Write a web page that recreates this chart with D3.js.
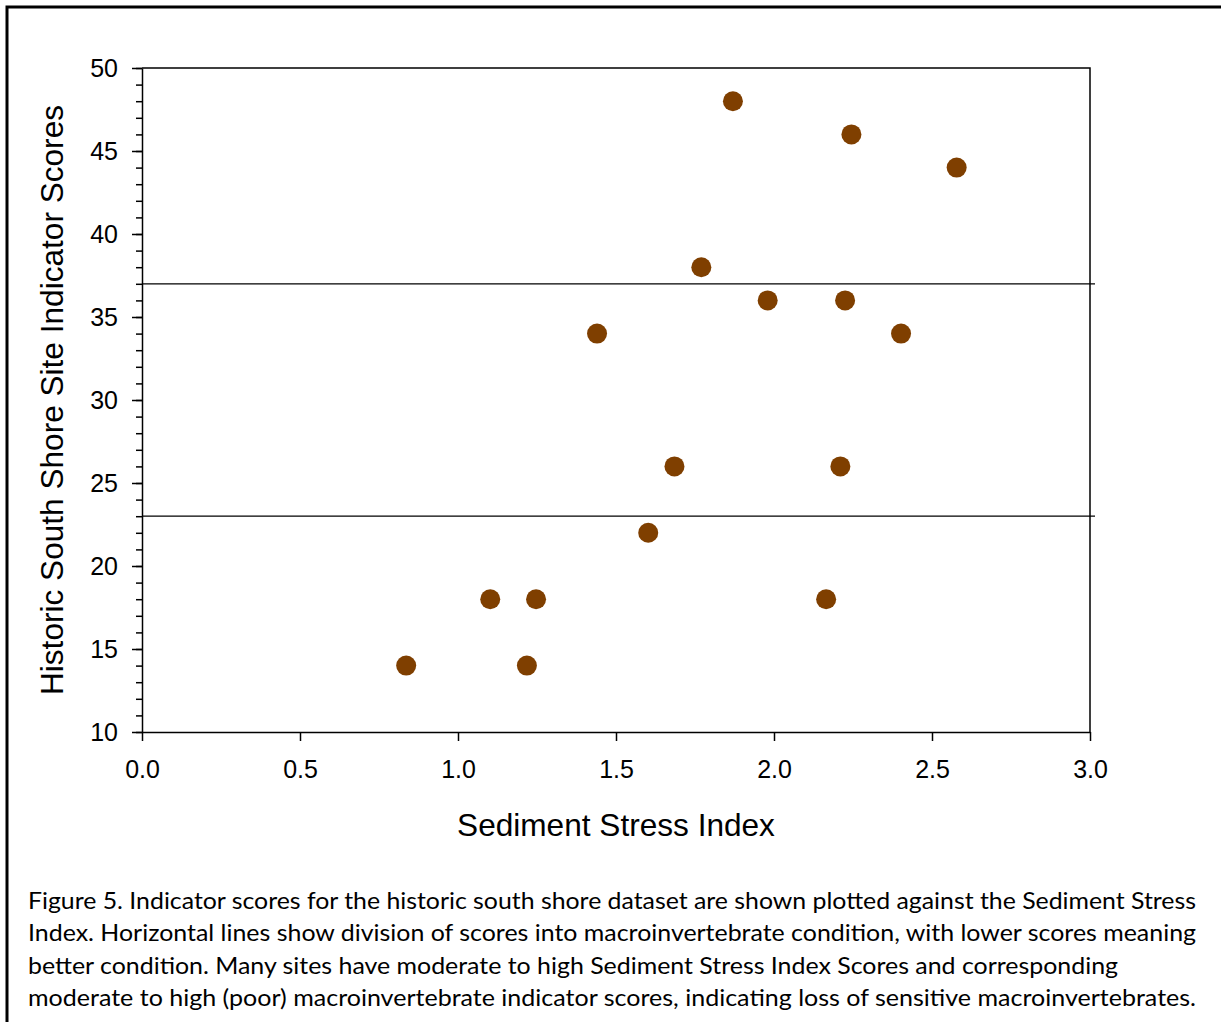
<!DOCTYPE html>
<html>
<head>
<meta charset="utf-8">
<script src="https://cdn.jsdelivr.net/npm/d3@7"></script>
<style>
  body { margin: 0; background: #fff; }
  .tick text { font-family: "Liberation Sans", Arial, sans-serif; }
</style>
</head>
<body>
<div id="chart"></div>
<script>
//---------------- data ----------------------
var ssiValues   = [1.87, 2.245, 2.578, 1.77, 1.98, 2.225, 2.402, 1.44, 1.685, 2.21, 1.602, 1.102, 1.247, 2.165, 0.836, 1.218];
var scoreValues = [48,   46,    44,    38,   36,   36,    34,    34,   26,    26,   22,    18,    18,    18,    14,    14];
var divisionLines = [37, 23];
var xTicks = [0, 0.5, 1, 1.5, 2, 2.5, 3];
var yTicks = [10, 15, 20, 25, 30, 35, 40, 45, 50];
var captionLines = [
	"Figure 5. Indicator scores for the historic south shore dataset are shown plotted against the Sediment Stress",
	"Index. Horizontal lines show division of scores into macroinvertebrate condition, with lower scores meaning",
	"better condition. Many sites have moderate to high Sediment Stress Index Scores and corresponding",
	"moderate to high (poor) macroinvertebrate indicator scores, indicating loss of sensitive macroinvertebrates."
];
var captionWidths = [1168, 1168, 1090, 1168];

var w = 1221;
var h = 1022;
var plotLeft = 142, plotRight = 1090, plotTop = 68, plotBottom = 732;

var svg = d3.select("#chart").append("svg").attr("width", w).attr("height", h);

// outer frame (right and bottom fall outside the page)
svg.append("rect")
	.attr("x", 7).attr("y", 7)
	.attr("width", 1240).attr("height", 1060)
	.attr("fill", "none").attr("stroke", "#000").attr("stroke-width", 3);

//---------------- scales ----------------------
var xScale = d3.scaleLinear().domain([0, 3]).range([plotLeft, plotRight]);
var yScale = d3.scaleLinear().domain([10, 50]).range([plotBottom, plotTop]);

// minor y ticks
svg.append("g")
	.attr("transform", "translate(" + plotLeft + ",0)")
	.call(d3.axisLeft(yScale).ticks(40).tickSize(6).tickFormat(""))
	.call(function(g) { g.select(".domain").remove(); });

// y axis
var yAxisG = svg.append("g")
	.attr("transform", "translate(" + plotLeft + ",0)")
	.call(d3.axisLeft(yScale).tickValues(yTicks).tickSize(10).tickSizeOuter(0).tickPadding(14));
yAxisG.selectAll("text").attr("font-size", 25).attr("fill", "#000");

// x axis
var xAxisG = svg.append("g")
	.attr("transform", "translate(0," + plotBottom + ")")
	.call(d3.axisBottom(xScale).tickValues(xTicks).tickSize(9).tickSizeOuter(0).tickPadding(19)
		.tickFormat(d3.format(".1f")));
xAxisG.selectAll("text").attr("font-size", 25).attr("fill", "#000");

svg.selectAll(".domain, .tick line").attr("stroke", "#000").attr("stroke-width", 1.5);

// top and right frame
svg.append("path")
	.attr("d", "M" + plotLeft + "," + plotTop + "H" + plotRight + "V" + plotBottom)
	.attr("fill", "none").attr("stroke", "#000").attr("stroke-width", 1.5);

// division lines
svg.selectAll(".division")
	.data(divisionLines)
	.enter()
	.append("line")
	.attr("class", "division")
	.attr("x1", plotLeft)
	.attr("x2", plotRight + 5)
	.attr("y1", function(d) { return yScale(d); })
	.attr("y2", function(d) { return yScale(d); })
	.attr("stroke", "#000").attr("stroke-width", 1.3);

// points
svg.selectAll("circle")
	.data(ssiValues)
	.enter()
	.append("circle")
	.attr("cx", function(d) { return xScale(d); })
	.attr("cy", function(d, i) { return yScale(scoreValues[i]); })
	.attr("r", 10)
	.attr("fill", "#7f3f00");

// axis titles
svg.append("text")
	.attr("x", (plotLeft + plotRight) / 2)
	.attr("y", 836)
	.attr("text-anchor", "middle")
	.attr("font-family", "Liberation Sans, Arial, sans-serif")
	.attr("font-size", 31.6)
	.text("Sediment Stress Index");

svg.append("text")
	.attr("transform", "translate(63," + 400 + ") rotate(-90)")
	.attr("text-anchor", "middle")
	.attr("font-family", "Liberation Sans, Arial, sans-serif")
	.attr("font-size", 31.6)
	.text("Historic South Shore Site Indicator Scores");

// caption
svg.append("g").selectAll("text")
	.data(captionLines)
	.enter()
	.append("text")
	.attr("x", 28)
	.attr("y", function(d, i) { return 909 + i * 32.4; })
	.attr("font-family", "Lato, 'Open Sans', sans-serif")
	.attr("font-size", 23)
	.attr("textLength", function(d, i) { return captionWidths[i]; })
	.attr("lengthAdjust", "spacingAndGlyphs")
	.attr("fill", "#000")
	.text(function(d) { return d; });
</script>
</body>
</html>
